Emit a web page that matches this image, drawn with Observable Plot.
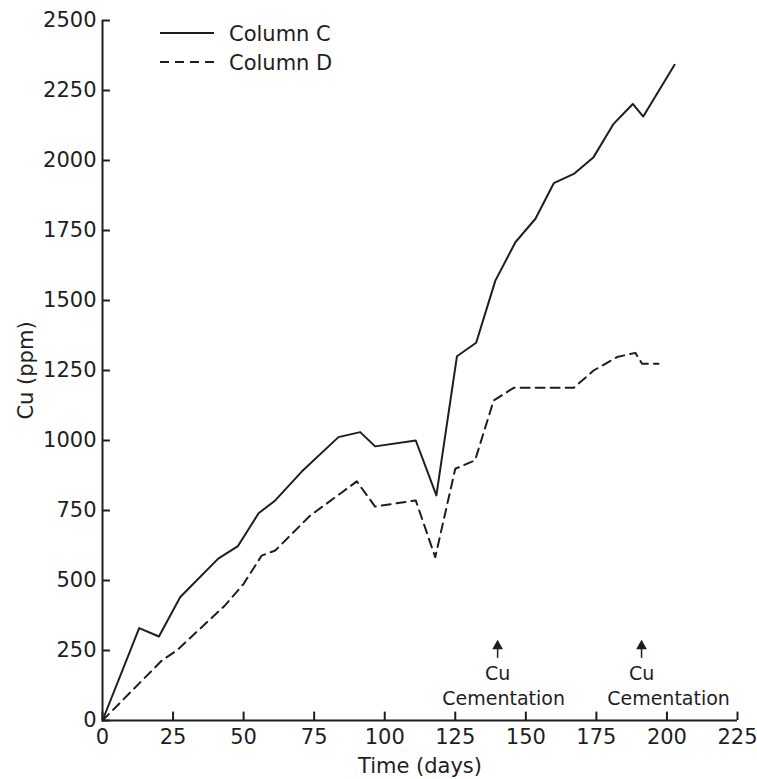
<!DOCTYPE html>
<html><head><meta charset="utf-8">
<script src="https://cdn.jsdelivr.net/npm/d3@7"></script>
<script src="https://cdn.jsdelivr.net/npm/@observablehq/plot@0.6"></script>
<style>
body{margin:0;background:#fff;}
#wrap{position:relative;width:757px;height:779px;}
#legend{position:absolute;left:0;top:0;}
</style></head><body><div id="wrap"></div>
<script>
const xTicks = [0, 25, 50, 75, 100, 125, 150, 175, 200, 225];
const yTicks = [0, 250, 500, 750, 1000, 1250, 1500, 1750, 2000, 2250, 2500];

const seriesNames = ["Column C", "Column D"];

const colCDays = [0, 13, 20, 27.5, 41, 48, 55.3, 61.2, 70.6, 83.6, 91.3, 96.6, 111, 118.3, 125.6, 132.4, 139.2, 146.3, 153.4, 159.9, 167, 174, 181.1, 187.9, 191.6, 202.7];
const colCPpm  = [0, 330, 300, 440, 578, 623, 740, 786, 889, 1012, 1030, 979, 1000, 804, 1301, 1349, 1571, 1708, 1792, 1919, 1952, 2012, 2131, 2202, 2157, 2342];

const colDDays = [0, 21, 26.3, 43.4, 50, 56.4, 61.2, 73.6, 84.2, 90.1, 96.6, 111, 117.9, 125, 132, 138.6, 145.7, 167, 174, 182.3, 188.8, 191.2, 197];
const colDPpm  = [0, 214, 250, 411, 488, 589, 607, 732, 810, 854, 764, 786, 583, 899, 929, 1143, 1188, 1188, 1250, 1298, 1313, 1274, 1274];

const cementDays = [140, 191];
const cementTop = ["Cu", "Cu"];
const cementBottom = ["Cementation", "Cementation"];

const C = colCDays.map((d, i) => ({day: d, ppm: colCPpm[i]}));
const D = colDDays.map((d, i) => ({day: d, ppm: colDPpm[i]}));

const ink = "#1e1e1e";
const font = "DejaVu Sans";

const chart = Plot.plot({
  width: 757, height: 779,
  marginLeft: 102, marginRight: 20, marginTop: 20, marginBottom: 59,
  style: {fontFamily: font, fontSize: "21px", color: ink, background: "#fff"},
  x: {domain: [0, 225]},
  y: {domain: [0, 2500]},
  marks: [
    Plot.ruleX([0], {stroke: ink, strokeWidth: 2}),
    Plot.ruleY([0], {stroke: ink, strokeWidth: 2}),
    Plot.ruleX(xTicks, {y1: 0, y2: 30, stroke: ink, strokeWidth: 2}),
    Plot.ruleY(yTicks, {x1: 0, x2: 2.8, stroke: ink, strokeWidth: 2}),
    Plot.axisX({ticks: xTicks, tickSize: 0, tickPadding: 9, tickFormat: "d",
      label: "Time (days)", labelAnchor: "center", labelArrow: "none", labelOffset: 52}),
    Plot.axisY({ticks: yTicks, tickSize: 0, tickPadding: 6, tickFormat: "d",
      label: "Cu (ppm)", labelAnchor: "center", labelArrow: "none", labelOffset: 84}),
    Plot.line(C, {x: "day", y: "ppm", stroke: ink, strokeWidth: 2}),
    Plot.line(D, {x: "day", y: "ppm", stroke: ink, strokeWidth: 2, strokeDasharray: "9,6"}),
    Plot.ruleX(cementDays, {y1: 222, y2: 262, stroke: ink, strokeWidth: 1.5}),
    Plot.dot(cementDays, {x: d => d, y: 266, symbol: "triangle", r: 4, fill: ink, stroke: null}),
    Plot.text(cementDays, {x: d => d, y: 166, text: (d, i) => cementTop[i], fill: ink, fontSize: 19, letterSpacing: 1}),
    Plot.text(cementDays.slice(0, 1), {x: d => d, y: 78, text: (d, i) => cementBottom[0], dx: 6, fill: ink, fontSize: 19, letterSpacing: 1}),
    Plot.text(cementDays.slice(1), {x: d => d, y: 78, text: (d, i) => cementBottom[1], dx: 27, fill: ink, fontSize: 19, letterSpacing: 1})
  ]
});

const wrap = document.getElementById("wrap");
wrap.appendChild(chart);

const ns = "http://www.w3.org/2000/svg";
const leg = document.createElementNS(ns, "svg");
leg.setAttribute("id", "legend");
leg.setAttribute("width", 360);
leg.setAttribute("height", 80);
const rows = [{y: 33, dash: null}, {y: 62, dash: "9,6"}];
rows.forEach((r, i) => {
  const l = document.createElementNS(ns, "line");
  l.setAttribute("x1", 160); l.setAttribute("x2", 214);
  l.setAttribute("y1", r.y); l.setAttribute("y2", r.y);
  l.setAttribute("stroke", ink); l.setAttribute("stroke-width", 2);
  if (r.dash) l.setAttribute("stroke-dasharray", r.dash);
  leg.appendChild(l);
  const t = document.createElementNS(ns, "text");
  t.setAttribute("x", 229); t.setAttribute("y", r.y + 2);
  t.setAttribute("dominant-baseline", "middle");
  t.setAttribute("font-family", font); t.setAttribute("font-size", 21);
  t.setAttribute("fill", ink);
  t.textContent = seriesNames[i];
  leg.appendChild(t);
});
wrap.appendChild(leg);
</script></body></html>
